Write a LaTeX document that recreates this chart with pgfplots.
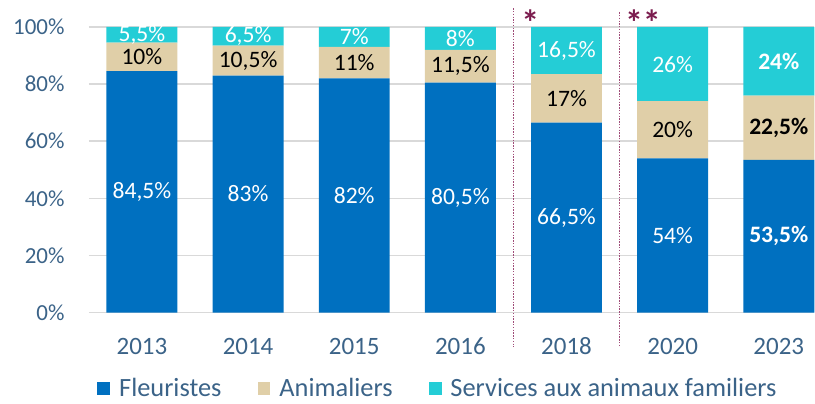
\documentclass[border=0pt]{standalone}
\usepackage{pgfplots}
\pgfplotsset{compat=1.18}
\usepackage{fontspec}
\setmainfont{Carlito}

\definecolor{fleur}{HTML}{0070C0}
\definecolor{anim}{HTML}{E0CFA8}
\definecolor{serv}{HTML}{24CDD6}
\definecolor{tickcol}{HTML}{3B6388}
\definecolor{gridcol}{HTML}{D9D9D9}
\definecolor{sepcol}{HTML}{A04C78}
\definecolor{starcol}{HTML}{7B1C4E}

\pgfplotsset{
  common/.style={
    scale only axis,
    width=363pt, height=143pt,
    xmin=-0.5, xmax=6.33,
    ymin=0, ymax=100,
    clip=false,
  },
  lbl/.style={
    only marks, mark=none,
    nodes near coords,
    point meta=explicit symbolic,
    every node near coord/.append style={anchor=center, font=\fontsize{11.8}{13}\selectfont, text=#1},
  },
}

\begin{document}
\begin{tikzpicture}
\begin{axis}[
    common,
    ybar stacked,
    bar width=35.5pt,
    axis line style={draw=none},
    major tick length=0pt,
    ymajorgrids,
    grid style={gridcol, line width=0.75pt},
    xtick={0,1,2,3,4,5,6},
    xticklabels={2013,2014,2015,2016,2018,2020,2023},
    ytick={0,20,40,60,80,100},
    yticklabels={0\%,20\%,40\%,60\%,80\%,100\%},
    xticklabel style={anchor=center, yshift=-17pt, font=\fontsize{12.5}{14}\selectfont, text=tickcol},
    yticklabel style={anchor=east, inner sep=0pt, xshift=-12pt, font=\fontsize{11.5}{13}\selectfont, text=tickcol},
    legend columns=3,
    legend style={at={(rel axis cs:0.011,-0.266)}, anchor=west, draw=none, fill=none,
      inner sep=0pt, font=\fontsize{13.2}{15}\selectfont, text=tickcol,
      /tikz/every odd column/.append style={column sep=2.5pt},
      /tikz/every even column/.append style={column sep=16pt}},
    legend image code/.code={\fill[#1] (0pt,-3.3pt) rectangle (6.5pt,3.3pt);},
]
\addplot[fill=fleur, draw=none] coordinates {(0,84.5) (1,83) (2,82) (3,80.5) (4,66.5) (5,54) (6,53.5)};
\addplot[fill=anim, draw=none] coordinates {(0,10) (1,10.5) (2,11) (3,11.5) (4,17) (5,20) (6,22.5)};
\addplot[fill=serv, draw=none] coordinates {(0,5.5) (1,6.5) (2,7) (3,8) (4,16.5) (5,26) (6,24)};
\legend{Fleuristes,Animaliers,Services aux animaux familiers}
% separators for changes of method
\draw[sepcol, line width=0.7pt, dash pattern=on 0.7pt off 0.7pt] (axis cs:3.5,106.6) -- (axis cs:3.5,-11.9);
\draw[sepcol, line width=0.7pt, dash pattern=on 0.7pt off 0.7pt] (axis cs:4.5,105.2) -- (axis cs:4.5,-11.9);
\node[starcol, anchor=north, inner sep=0pt, font=\fontsize{18}{20}\selectfont\bfseries] at (axis cs:3.66,106.2) {*};
\node[starcol, anchor=north, inner sep=0pt, font=\fontsize{18}{20}\selectfont\bfseries] at (axis cs:4.72,106.2) {**};
\end{axis}
\begin{axis}[common, hide axis]
\addplot[lbl=white] coordinates {(0,42.25) [84,5\%] (1,41.5) [83\%] (2,41) [82\%] (3,40.25) [80,5\%] (4,33.25) [66,5\%] (5,27) [54\%] (6,26.75) [\textbf{53,5\%}]};
\addplot[lbl=black] coordinates {(0,89.5) [10\%] (1,88.25) [10,5\%] (2,87.5) [11\%] (3,86.25) [11,5\%] (4,75) [17\%] (5,64) [20\%] (6,64.75) [\textbf{22,5\%}]};
\addplot[lbl=white] coordinates {(0,97.25) [5,5\%] (1,96.75) [6,5\%] (2,96.5) [7\%] (3,96) [8\%] (4,91.75) [16,5\%] (5,87) [26\%] (6,88) [\textbf{24\%}]};
\path (axis cs:-1.337,-31.47) rectangle (axis cs:6.33,109.44);
\end{axis}
\end{tikzpicture}
\end{document}
